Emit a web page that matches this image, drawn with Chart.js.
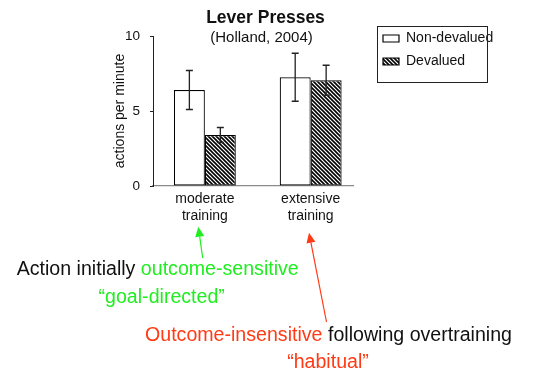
<!DOCTYPE html>
<html>
<head>
<meta charset="utf-8">
<script src="https://cdn.jsdelivr.net/npm/chart.js@4/dist/chart.umd.min.js"></script>
<style>
  html, body { margin: 0; padding: 0; background: #fff; }
  #wrap { width: 537px; height: 372px; }
</style>
</head>
<body>
<div id="wrap"><canvas id="chart" width="537" height="372"></canvas></div>
<script>
// Lever presses per minute by training amount (Holland, 2004)
const categories = ['moderate training', 'extensive training'];
const seriesNames = ['Non-devalued', 'Devalued'];
const nonDevalued = [6.4, 7.25];
const devalued = [3.4, 7.05];
const nonDevaluedErr = [1.3, 1.6];
const devaluedErr = [0.5, 1.0];
const yTicks = [0, 5, 10];

const chartTitle = 'Lever Presses';
const chartSubtitle = '(Holland, 2004)';
const yTitle = 'actions per minute';

const FONT = '"Liberation Sans", Arial, Helvetica, sans-serif';
const GREEN = '#1fee1f';
const RED = '#ff3a14';
const INK = '#111';

Chart.defaults.font.family = FONT;
Chart.defaults.color = INK;

// diagonal hatch fill for the devalued bars
function makeHatch() {
  const c = document.createElement('canvas');
  c.width = 4; c.height = 4;
  const g = c.getContext('2d');
  g.fillStyle = '#fff';
  g.fillRect(0, 0, 4, 4);
  g.strokeStyle = '#000';
  g.lineWidth = 1.6;
  g.beginPath();
  g.moveTo(-1, -1); g.lineTo(5, 5);
  g.moveTo(-1, 3); g.lineTo(1, 5);
  g.moveTo(3, -1); g.lineTo(5, 1);
  g.stroke();
  return g.createPattern(c, 'repeat');
}
const hatch = makeHatch();

const toPoints = vals => vals.map((v, i) => ({ x: i, y: v }));
const errors = [nonDevaluedErr, devaluedErr];

// whiskers drawn from each bar's value +/- its error
const errorBars = {
  id: 'errorBars',
  afterDatasetsDraw(chart) {
    const { ctx } = chart;
    const y = chart.scales.y;
    ctx.save();
    ctx.strokeStyle = '#222';
    ctx.lineWidth = 1.3;
    chart.data.datasets.forEach((ds, di) => {
      const meta = chart.getDatasetMeta(di);
      meta.data.forEach((bar, i) => {
        const v = ds.data[i].y;
        const e = errors[di][i];
        const yt = y.getPixelForValue(v + e);
        const yb = y.getPixelForValue(v - e);
        const cap = 3.5;
        ctx.beginPath();
        ctx.moveTo(bar.x, yt); ctx.lineTo(bar.x, yb);
        ctx.moveTo(bar.x - cap, yt); ctx.lineTo(bar.x + cap, yt);
        ctx.moveTo(bar.x - cap, yb); ctx.lineTo(bar.x + cap, yb);
        ctx.stroke();
      });
    });
    ctx.restore();
  }
};

// legend sits in a framed box to the right of the plot
const legendPlacement = {
  id: 'legendPlacement',
  afterLayout(chart) {
    const lg = chart.legend;
    if (!lg) return;
    lg.left = 374; lg.top = 22.5;
    lg.width = 130; lg.height = 70;
    lg.right = lg.left + lg.width;
    lg.bottom = lg.top + lg.height;
  },
  afterDraw(chart) {
    const { ctx } = chart;
    ctx.save();
    ctx.strokeStyle = '#222';
    ctx.lineWidth = 1;
    ctx.strokeRect(377.5, 26.5, 110, 56);
    ctx.restore();
  }
};

function arrow(ctx, x1, y1, x2, y2, color) {
  const a = Math.atan2(y2 - y1, x2 - x1);
  const len = 10, half = 4.5;
  const c = Math.cos(a), s = Math.sin(a);
  ctx.strokeStyle = color;
  ctx.fillStyle = color;
  ctx.lineWidth = 1.2;
  ctx.beginPath();
  ctx.moveTo(x1, y1);
  ctx.lineTo(x2 - len * c, y2 - len * s);
  ctx.stroke();
  ctx.beginPath();
  ctx.moveTo(x2, y2);
  ctx.lineTo(x2 - len * c + half * s, y2 - len * s - half * c);
  ctx.lineTo(x2 - len * c - half * s, y2 - len * s + half * c);
  ctx.closePath();
  ctx.fill();
}

function runs(ctx, parts, x, y) {
  parts.forEach(([text, color]) => {
    ctx.fillStyle = color;
    ctx.fillText(text, x, y);
    x += ctx.measureText(text).width;
  });
}

// title block and the interpretive notes below the chart
const notes = {
  id: 'notes',
  afterDraw(chart) {
    const { ctx } = chart;
    ctx.save();
    ctx.textBaseline = 'alphabetic';
    ctx.textAlign = 'center';
    ctx.fillStyle = INK;
    ctx.font = 'bold 17.5px ' + FONT;
    ctx.fillText(chartTitle, 265.5, 23);
    ctx.font = '15px ' + FONT;
    ctx.fillText(chartSubtitle, 261.5, 41.5);

    ctx.font = '19.6px ' + FONT;
    ctx.textAlign = 'left';
    runs(ctx, [['Action initially ', INK], ['outcome-sensitive', GREEN]], 16.7, 275);
    runs(ctx, [['Outcome-insensitive', RED], [' following overtraining', INK]], 145, 341);
    ctx.textAlign = 'center';
    ctx.fillStyle = GREEN;
    ctx.fillText('\u201Cgoal-directed\u201D', 161.7, 303);
    ctx.fillStyle = RED;
    ctx.fillText('\u201Chabitual\u201D', 328, 368);

    arrow(ctx, 202.7, 258, 198.3, 226.7, GREEN);
    arrow(ctx, 326.5, 322, 309, 232.7, RED);
    ctx.restore();
  }
};

new Chart(document.getElementById('chart'), {
  type: 'bar',
  data: {
    datasets: [
      {
        label: seriesNames[0],
        data: toPoints(nonDevalued),
        backgroundColor: '#fff',
        borderColor: '#000',
        borderWidth: 1.2,
        borderSkipped: false
      },
      {
        label: seriesNames[1],
        data: toPoints(devalued),
        backgroundColor: hatch,
        borderColor: '#000',
        borderWidth: 1.2,
        borderSkipped: false
      }
    ]
  },
  options: {
    responsive: false,
    animation: false,
    events: [],
    categoryPercentage: 0.585,
    barPercentage: 1,
    layout: { padding: { left: 108, right: 184, top: 36, bottom: 146 } },
    plugins: {
      tooltip: { enabled: false },
      title: { display: false },
      legend: {
        display: true,
        position: 'chartArea',
        align: 'start',
        labels: {
          color: INK,
          font: { size: 14 },
          boxWidth: 16,
          boxHeight: 7,
          padding: 9
        }
      }
    },
    scales: {
      x: {
        type: 'linear',
        offset: false,
        min: -0.49,
        max: 1.4,
        grid: { display: false, drawTicks: false },
        border: { display: true, color: '#8a8a8a', width: 1.2 },
        afterBuildTicks(scale) {
          scale.ticks = categories.map((_, i) => ({ value: i }));
        },
        afterFit(scale) { scale.height = 40; },
        ticks: {
          color: INK,
          font: { size: 14 },
          padding: 5,
          maxRotation: 0,
          autoSkip: false,
          callback: v => categories[v] ? categories[v].split(' ') : ''
        }
      },
      y: {
        min: 0,
        max: 10,
        afterBuildTicks(scale) {
          scale.ticks = yTicks.map(v => ({ value: v }));
        },
        afterFit(scale) { scale.width = 45; },
        grid: { display: true, drawOnChartArea: false, drawTicks: true, tickLength: 3, color: '#222' },
        border: { display: true, color: '#222', width: 1 },
        ticks: { color: INK, font: { size: 13.5 }, padding: 10 },
        title: {
          display: true,
          text: yTitle,
          color: INK,
          font: { size: 14 },
          padding: { top: 4, bottom: 4 }
        }
      }
    }
  },
  plugins: [errorBars, legendPlacement, notes]
});
</script>
</body>
</html>
